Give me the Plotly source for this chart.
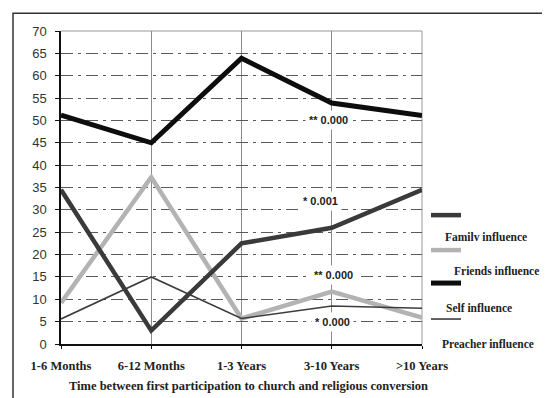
import plotly.graph_objects as go

categories = ["1-6 Months", "6-12 Months", "1-3 Years", "3-10 Years", ">10 Years"]
family = [34.5, 3.0, 22.5, 26.0, 34.5]
friends = [9.2, 37.3, 5.7, 11.7, 5.9]
self_inf = [51.2, 45.0, 63.9, 53.9, 51.1]
preacher = [5.6, 15.0, 5.7, 8.5, 8.0]
y_ticks = list(range(0, 75, 5))
legend_labels = ["Familv influence", "Friends influence", "Self influence", "Preacher influence"]
pvalues = ["** 0.000", "* 0.001", "** 0.000", "* 0.000"]
pvalue_pos = [(2.96, 50.0), (2.87, 31.9), (3.02, 15.4), (3.01, 4.9)]

W, H = 550, 398
L, R, T, B = 53, 414, 22.7, 336

def px(x):
    return (x - L) / (R - L)

def py(y):
    return (B - y) / (B - T)

xs = list(range(len(categories)))
fig = go.Figure()
styles = [
    (friends, "#b3b3b3", 4.5),
    (preacher, "#3c3c3c", 1.6),
    (family, "#3a3a3a", 4.5),
    (self_inf, "#0d0d0d", 5),
]
for vals, col, w in styles:
    fig.add_trace(go.Scatter(x=xs, y=vals, mode="lines",
                             line=dict(color=col, width=w),
                             showlegend=False, hoverinfo="skip"))

serif = "Liberation Serif"
sans = "Liberation Sans"

shapes = []
shapes.append(dict(type="rect", xref="paper", yref="paper",
                   x0=px(5), x1=px(543), y0=py(391), y1=py(5),
                   line=dict(color="#333", width=1.5), layer="below"))
shapes.append(dict(type="line", xref="paper", yref="paper", x0=0, x1=1, y0=1, y1=1,
                   line=dict(color="#999", width=1), layer="between"))
shapes.append(dict(type="line", xref="paper", yref="paper", x0=1, x1=1, y0=0, y1=1,
                   line=dict(color="#999", width=1), layer="between"))

leg_sample_y = [207, 242, 275, 311]
leg_text = [(478, 229), (488, 263), (471, 300), (480, 336)]
leg_cols = [("#3a3a3a", 4.5), ("#b3b3b3", 4.5), ("#0d0d0d", 5), ("#3c3c3c", 1.6)]
for sy, (c, w) in zip(leg_sample_y, leg_cols):
    shapes.append(dict(type="line", xref="paper", yref="paper",
                       x0=px(423), x1=px(453), y0=py(sy), y1=py(sy),
                       line=dict(color=c, width=w)))

annotations = []
for lab, (tx, ty) in zip(legend_labels, leg_text):
    annotations.append(dict(xref="paper", yref="paper", x=px(tx), y=py(ty),
                            text="<b>%s</b>" % lab, showarrow=False,
                            font=dict(family=serif, size=11.5, color="#222"),
                            xanchor="center", yanchor="middle"))
for lab, (ax, ay) in zip(pvalues, pvalue_pos):
    annotations.append(dict(x=ax, y=ay, text="<b>%s</b>" % lab, showarrow=False,
                            font=dict(family=sans, size=11, color="#222"),
                            bgcolor="white", borderpad=3,
                            xanchor="center", yanchor="middle"))
annotations.append(dict(xref="paper", yref="paper", x=px(240), y=py(378),
                        text="<b>Time between first participation to church and religious conversion</b>",
                        showarrow=False, font=dict(family=serif, size=12.5, color="#222"),
                        xanchor="center", yanchor="middle"))

fig.update_layout(
    width=W, height=H,
    margin=dict(l=L, r=W - R, t=T, b=H - B, pad=0),
    plot_bgcolor="white", paper_bgcolor="white",
    shapes=shapes, annotations=annotations,
    showlegend=False,
    xaxis=dict(range=[0, 4], tickvals=xs, ticktext=["<b>%s</b>" % c for c in categories],
               showgrid=True, gridcolor="#8a8a8a", gridwidth=1,
               showline=True, linecolor="#111", linewidth=1.5,
               ticks="outside", ticklen=3, tickcolor="#111",
               ticklabelstandoff=6,
               tickfont=dict(family=serif, size=12.5, color="#222"),
               zeroline=False, fixedrange=True),
    yaxis=dict(range=[0, 70], tickvals=y_ticks,
               showgrid=True, gridcolor="#5a5a5a", gridwidth=1,
               griddash="12px,5px,3px,5px",
               showline=True, linecolor="#111", linewidth=1.5,
               ticks="outside", ticklen=4, tickcolor="#111",
               ticklabelstandoff=6,
               tickfont=dict(family=sans, size=13, color="#333"),
               zeroline=False, fixedrange=True),
)

fig.write_html("out.html")
